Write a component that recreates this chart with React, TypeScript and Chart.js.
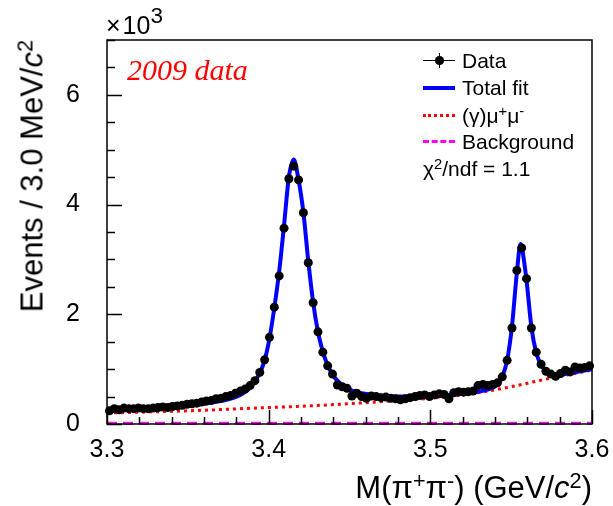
import React, { useEffect, useRef } from "react";
import { Chart, registerables } from "chart.js";

Chart.register(...registerables);

// ---- data (counts in units of 10^3 events per 3 MeV bin) ----
const BIN_LOW = 3.3;
const BIN_WIDTH = 0.003;
const dataCounts = [
  0.24, 0.28, 0.26, 0.29, 0.28, 0.28, 0.29, 0.28, 0.28, 0.29,
  0.30, 0.31, 0.30, 0.32, 0.33, 0.34, 0.36, 0.37, 0.38, 0.40,
  0.42, 0.43, 0.46, 0.47, 0.50, 0.52, 0.56, 0.60, 0.64, 0.70,
  0.79, 0.94, 1.17, 1.58, 2.13, 2.70, 3.57, 4.47, 4.70, 4.45,
  3.85, 2.94, 2.21, 1.68, 1.31, 1.06, 0.91, 0.71, 0.68, 0.65,
  0.51, 0.56, 0.50, 0.47, 0.51, 0.50, 0.48, 0.49, 0.47, 0.46,
  0.44, 0.46, 0.48, 0.50, 0.52, 0.53, 0.50, 0.53, 0.55, 0.54,
  0.46, 0.57, 0.59, 0.58, 0.59, 0.60, 0.70, 0.72, 0.70, 0.72,
  0.75, 0.86, 1.16, 1.75, 2.80, 3.21, 2.65, 1.75, 1.31, 1.09,
  0.96, 0.91, 0.87, 0.92, 0.98, 0.95, 1.04, 1.02, 1.03, 1.06,
];

// Total fit curve
const fitMass = [
  3.3, 3.32, 3.34, 3.355, 3.365, 3.375, 3.3825, 3.3885, 3.3915, 3.3945,
  3.3975, 3.4005, 3.4035, 3.4065, 3.4095, 3.4125, 3.4155, 3.4185, 3.4215, 3.4245,
  3.4275, 3.4305, 3.4335, 3.4365, 3.4395, 3.4425, 3.4455, 3.45, 3.456, 3.465,
  3.48, 3.5, 3.52, 3.53, 3.5385, 3.5415, 3.5445, 3.5475, 3.5505, 3.5535,
  3.5558, 3.5565, 3.5595, 3.5625, 3.5655, 3.5685, 3.5715, 3.5745, 3.5775, 3.585,
  3.5925, 3.6,
];
const fitTotal = [
  0.27, 0.28, 0.31, 0.35, 0.39, 0.45, 0.53, 0.66, 0.78, 0.93,
  1.16, 1.56, 2.12, 2.78, 3.62, 4.50, 4.82, 4.45, 3.85, 2.97,
  2.22, 1.68, 1.32, 1.07, 0.90, 0.79, 0.71, 0.63, 0.57, 0.53,
  0.50, 0.51, 0.55, 0.59, 0.66, 0.72, 0.86, 1.16, 1.78, 2.75,
  3.28, 3.24, 2.62, 1.77, 1.30, 1.08, 0.96, 0.90, 0.88, 0.92,
  0.96, 1.0,
];

// (gamma) mu+ mu- component
const muMass = [3.3, 3.325, 3.35, 3.375, 3.4, 3.425, 3.45, 3.475, 3.5, 3.525, 3.55, 3.575, 3.6];
const muCurve = [0.2, 0.22, 0.24, 0.27, 0.3, 0.33, 0.37, 0.42, 0.47, 0.55, 0.68, 0.84, 0.98];

// Background component
const bkgMass = [3.3, 3.6];
const bkgCurve = [0.015, 0.015];

const xTickValues = [3.3, 3.4, 3.5, 3.6];
const yTickValues = [0, 2, 4, 6];
const X_MIN = 3.3;
const X_MAX = 3.6;
const Y_MIN = 0;
const Y_MAX = 7;

const SANS = '"Liberation Sans", Arial, Helvetica, sans-serif';
const SERIF = '"Liberation Serif", "Times New Roman", serif';

const framePlugin = {
  id: "rootFrame",
  afterDatasetsDraw(chart: any) {
    const { ctx, chartArea: a, scales } = chart;
    const xs = scales.x;
    const ys = scales.y;
    ctx.save();
    ctx.strokeStyle = "#000";
    ctx.lineWidth = 1.5;
    ctx.strokeRect(a.left, a.top, a.right - a.left, a.bottom - a.top);
    ctx.beginPath();
    for (let k = 0; k <= 14; k++) {
      const p = Math.round(ys.getPixelForValue(k * 0.5)) + 0.5;
      const len = k % 4 === 0 ? 15 : 8;
      ctx.moveTo(a.left, p);
      ctx.lineTo(a.left + len, p);
    }
    for (let k = 0; k <= 15; k++) {
      const p = Math.round(xs.getPixelForValue(X_MIN + k * 0.02)) + 0.5;
      const len = k % 5 === 0 ? 14 : 7;
      ctx.moveTo(p, a.bottom);
      ctx.lineTo(p, a.bottom - len);
    }
    ctx.stroke();
    ctx.restore();
  },
};

const supStyle: React.CSSProperties = {
  fontSize: "0.7em",
  verticalAlign: "0.45em",
  lineHeight: 0,
};

export default function App() {
  const canvasRef = useRef<HTMLCanvasElement | null>(null);

  useEffect(() => {
    const canvas = canvasRef.current;
    if (!canvas) return;
    const points = dataCounts.map((v, i) => ({ x: BIN_LOW + BIN_WIDTH * (i + 0.5), y: v }));
    const fit = fitMass.map((m, i) => ({ x: m, y: fitTotal[i] }));
    const mu = muMass.map((m, i) => ({ x: m, y: muCurve[i] }));
    const bkg = bkgMass.map((m, i) => ({ x: m, y: bkgCurve[i] }));

    const chart = new Chart(canvas, {
      type: "line",
      data: {
        datasets: [
          {
            label: "Data",
            data: points,
            showLine: false,
            pointRadius: 4.5,
            pointBackgroundColor: "#000",
            pointBorderColor: "#000",
            pointBorderWidth: 0,
            clip: false,
          } as any,
          {
            label: "Total fit",
            data: fit,
            borderColor: "#0000ff",
            borderWidth: 4,
            pointRadius: 0,
            cubicInterpolationMode: "monotone",
            fill: false,
            clip: false,
          } as any,
          {
            label: "(γ)μ+μ-",
            data: mu,
            borderColor: "#ff0000",
            borderWidth: 3,
            borderDash: [3, 4],
            pointRadius: 0,
            cubicInterpolationMode: "monotone",
            fill: false,
            clip: false,
          } as any,
          {
            label: "Background",
            data: bkg,
            borderColor: "#ff00ff",
            borderWidth: 3,
            borderDash: [10, 6],
            pointRadius: 0,
            fill: false,
            clip: false,
          } as any,
        ],
      },
      options: {
        responsive: false,
        animation: false,
        events: [],
        layout: { padding: { left: 0, right: 21, top: 40, bottom: 0 } },
        plugins: { legend: { display: false }, tooltip: { enabled: false } },
        scales: {
          x: {
            type: "linear",
            min: X_MIN,
            max: X_MAX,
            grid: { display: false, drawTicks: false },
            border: { display: false },
            afterFit(s: any) {
              s.height = 82;
              s.paddingLeft = 0;
              s.paddingRight = 0;
            },
            afterBuildTicks(s: any) {
              s.ticks = xTickValues.map((v) => ({ value: v }));
            },
            ticks: {
              color: "#000",
              font: { family: SANS, size: 25 },
              padding: 11,
              maxRotation: 0,
              autoSkip: false,
              callback: (v: any) => Number(v).toFixed(1),
            },
          },
          y: {
            type: "linear",
            min: Y_MIN,
            max: Y_MAX,
            grid: { display: false, drawTicks: false },
            border: { display: false },
            afterFit(s: any) {
              s.width = 107;
              s.paddingTop = 0;
              s.paddingBottom = 0;
            },
            afterBuildTicks(s: any) {
              s.ticks = yTickValues.map((v) => ({ value: v }));
            },
            ticks: {
              color: "#000",
              font: { family: SANS, size: 25 },
              padding: 27,
              autoSkip: false,
              callback: (v: any) => String(v),
            },
          },
        },
      } as any,
      plugins: [framePlugin],
    });
    return () => chart.destroy();
  }, []);

  const legendRow = (top: number): React.CSSProperties => ({
    position: "absolute",
    left: 0,
    top: top - 13.5,
    height: 27,
    width: 613,
  });
  const legendText: React.CSSProperties = {
    position: "absolute",
    left: 462,
    top: 0,
    lineHeight: "27px",
    fontSize: 21,
    fontFamily: SANS,
    color: "#000",
    whiteSpace: "nowrap",
  };

  return (
    <div
      style={{
        position: "fixed",
        left: 0,
        top: 0,
        width: 613,
        height: 506,
        background: "#fff",
        overflow: "hidden",
      }}
    >
      <canvas ref={canvasRef} width={613} height={506} style={{ position: "absolute", left: 0, top: 0 }} />

      {/* exponent */}
      <div
        style={{
          position: "absolute",
          left: 106,
          top: 13,
          fontFamily: SANS,
          fontSize: 25,
          lineHeight: 1,
          color: "#000",
          whiteSpace: "nowrap",
        }}
      >
        <span style={{ marginRight: 2 }}>×</span>10
        <sup style={{ fontSize: "0.9em", verticalAlign: "0.5em", lineHeight: 0 }}>3</sup>
      </div>

      {/* 2009 data */}
      <div
        style={{
          position: "absolute",
          left: 127,
          top: 55,
          fontFamily: SERIF,
          fontStyle: "italic",
          fontSize: 30,
          lineHeight: 1,
          color: "#ff0000",
          whiteSpace: "nowrap",
        }}
      >
        2009 data
      </div>

      {/* legend */}
      <div style={legendRow(60)}>
        <div style={{ position: "absolute", left: 423, top: 13, width: 32, height: 1.5, background: "#000" }} />
        <div style={{ position: "absolute", left: 438.5, top: 6, width: 1.5, height: 15, background: "#000" }} />
        <div
          style={{ position: "absolute", left: 435, top: 9.5, width: 8.5, height: 8.5, borderRadius: "50%", background: "#000" }}
        />
        <div style={legendText}>Data</div>
      </div>
      <div style={legendRow(87.5)}>
        <div style={{ position: "absolute", left: 423, top: 11.5, width: 32, height: 4, background: "#0000ff" }} />
        <div style={legendText}>Total fit</div>
      </div>
      <div style={legendRow(115)}>
        <div style={{ position: "absolute", left: 423, top: 12, width: 32, height: 0, borderTop: "3px dotted #ff0000" }} />
        <div style={legendText}>
          (γ)μ<sup style={supStyle}>+</sup>μ<sup style={supStyle}>-</sup>
        </div>
      </div>
      <div style={legendRow(141.5)}>
        <div style={{ position: "absolute", left: 423, top: 12, width: 32, height: 0, borderTop: "3px dashed #ff00ff" }} />
        <div style={legendText}>Background</div>
      </div>
      <div style={legendRow(168)}>
        <div style={{ ...legendText, left: 423 }}>
          χ<sup style={supStyle}>2</sup>/ndf = 1.1
        </div>
      </div>

      {/* y title */}
      <div
        style={{
          position: "absolute",
          left: 32,
          top: 40,
          transformOrigin: "0 0",
          transform: "rotate(-90deg) translate(-100%, -50%)",
          fontFamily: SANS,
          fontSize: 31,
          lineHeight: 1,
          color: "#000",
          whiteSpace: "nowrap",
        }}
      >
        Events / 3.0 MeV/<i>c</i>
        <sup style={supStyle}>2</sup>
      </div>

      {/* x title */}
      <div
        style={{
          position: "absolute",
          right: 21,
          top: 472,
          fontFamily: SANS,
          fontSize: 31,
          lineHeight: 1,
          color: "#000",
          whiteSpace: "nowrap",
        }}
      >
        M(π<sup style={supStyle}>+</sup>π<sup style={supStyle}>-</sup>) (GeV/<i>c</i>
        <sup style={supStyle}>2</sup>)
      </div>
    </div>
  );
}
